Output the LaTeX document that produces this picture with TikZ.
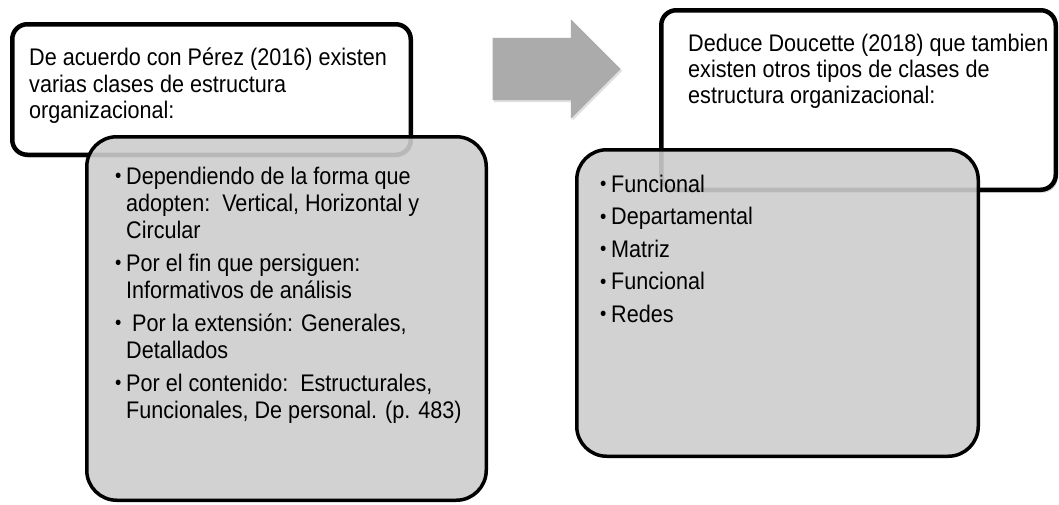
\documentclass[tikz,border=0pt]{standalone}
\usepackage{fontspec}
\setmainfont[FakeStretch=0.9]{Liberation Sans}
\usepackage{tikz}
\usetikzlibrary{positioning,shapes.arrows,shadows}
\definecolor{listgray}{RGB}{205,205,205}
\definecolor{arrowgray}{RGB}{171,171,171}
\tikzstyle{headbox}  = [rectangle, draw, fill=white, line width=4.5pt, rounded corners=15pt,
    inner sep=0pt, anchor=north west, drop shadow={shadow xshift=2pt, shadow yshift=-3pt, opacity=0.3}]
\tikzstyle{listbox}  = [rectangle, draw, fill=listgray, fill opacity=0.9, draw opacity=1,
    line width=3.5pt, rounded corners=30pt, inner sep=0pt, anchor=north west]
\tikzstyle{headtext} = [anchor=north west, inner sep=0pt, align=left, text opacity=1,
    font=\fontsize{24}{26.3}\selectfont]
\tikzstyle{listtext} = [headtext, font=\fontsize{24}{27}\selectfont]
\tikzstyle{bigarrow} = [single arrow, fill=arrowgray, draw=none, inner sep=0pt,
    text height=62pt, text depth=0pt, minimum height=128pt, single arrow head extend=18.5pt,
    drop shadow={shadow xshift=1.5pt, shadow yshift=-2pt, opacity=0.25}]
\newcommand{\bul}{\makebox[11pt][l]{\raisebox{1.3pt}{\fontsize{20}{20}\selectfont\textbullet}}}
\newcommand{\ind}{\hspace*{11pt}}

\begin{document}
\begin{tikzpicture}[x=1pt,y=-1pt]
    \useasboundingbox (0,0) rectangle (1059,504);
    % Place nodes
    \node [headbox, minimum width=398.5pt, minimum height=130.5pt] (perezBox) at (10,22) {};
    \node [headtext] (perezText) at (29,47.3) {\strut De acuerdo con Pérez (2016) existen\\
        varias clases de estructura\\ organizacional:};
    \node [listbox, minimum width=399.5pt, minimum height=363.5pt] (perezList) at (85,135) {};
    \node [listtext] (perezItems) at (115,165.1) {\strut\bul Dependiendo de la forma que\\
        \ind adopten:\ \ Vertical, Horizontal y\\ \ind Circular\\[6pt]
        \bul Por el fin que persiguen:\\ \ind Informativos de análisis\\[6pt]
        \bul\ Por la extensión: Generales,\\ \ind Detallados\\[6pt]
        \bul Por el contenido:\ \ Estructurales,\\ \ind Funcionales, De personal. (p. 483)};

    \node [bigarrow] (flowArrow) at (541,69) {};

    \node [headbox, minimum width=394.5pt, minimum height=179.5pt] (doucetteBox) at (659,8) {};
    \node [headtext] (doucetteText) at (688,32.6) {\strut Deduce Doucette (2018) que tambien\\
        existen otros tipos de clases de\\ estructura organizacional:};
    \node [listbox, minimum width=401.5pt, minimum height=306.5pt] (doucetteList) at (575,148) {};
    \node [listtext] (doucetteItems) at (600,173.1) {\strut\bul Funcional\\[5.5pt] \bul Departamental\\[5.5pt]
        \bul Matriz\\[5.5pt] \bul Funcional\\[5.5pt] \bul Redes};
\end{tikzpicture}
\end{document}
